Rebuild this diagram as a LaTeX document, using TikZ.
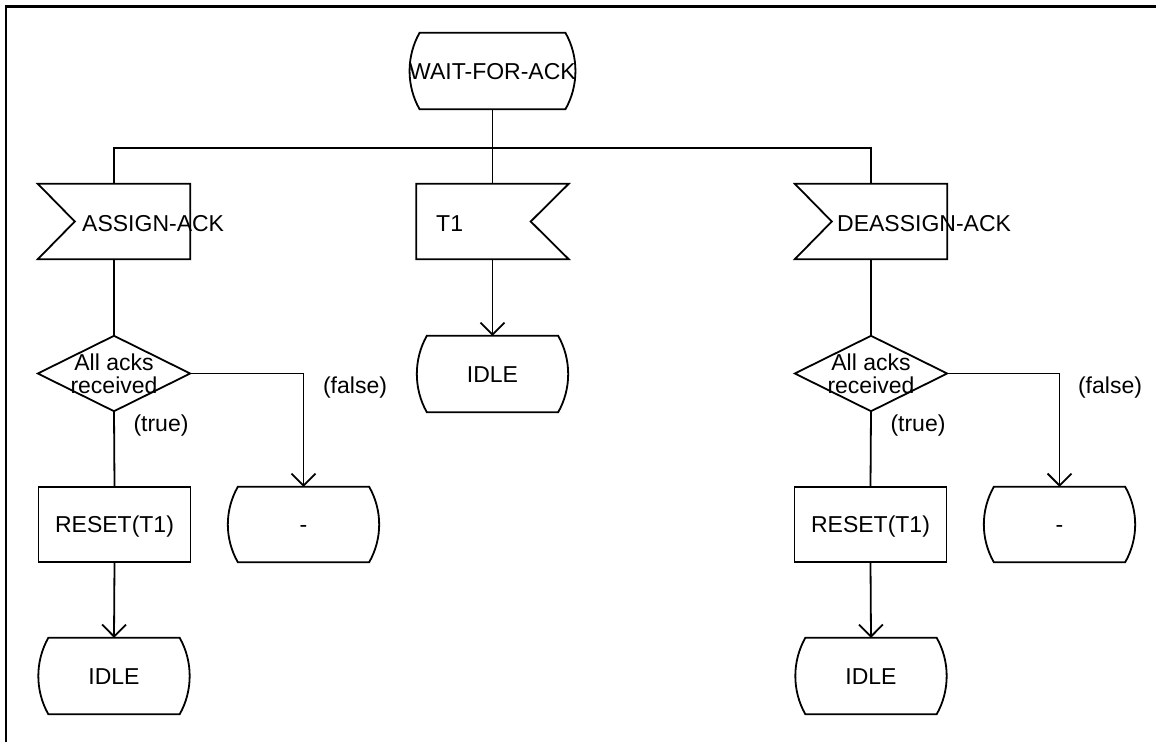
\documentclass[tikz,border=0pt]{standalone}
\usepackage{fontspec}
\setmainfont{Liberation Sans}
\usetikzlibrary{calc,arrows.meta}

\tikzset{
  sdl/.style={line width=1.8pt, black},
  frameline/.style={line width=2.3pt, black},
  lbl/.style={inner sep=0pt, font=\fontsize{23}{23}\selectfont},
  captext/.style={lbl, text height=16.5pt, text depth=0pt},
  box/.style={captext, rectangle, minimum width=152pt, minimum height=75pt},
  statebox/.style={box, minimum height=76pt},
  inputbox/.style={box},
  taskbox/.style={box, draw, sdl},
  decisionbox/.style={lbl, rectangle, align=center, minimum width=152pt, minimum height=75pt},
  flowarrow/.style={sdl, -{Straight Barb[length=12pt,width=24pt]}}
}

% SDL state symbol: straight top and bottom, bowed sides
\newcommand\sdlstate[1]{%
  \draw[sdl] ($(#1.north west)+(10.5,0)$) -- ($(#1.north east)+(-10.5,0)$)
    .. controls ($(#1.north east)+(2.8,23.6)$) and ($(#1.south east)+(2.8,-23.6)$) .. ($(#1.south east)+(-10.5,0)$)
    -- ($(#1.south west)+(10.5,0)$)
    .. controls ($(#1.south west)+(-2.8,-23.6)$) and ($(#1.north west)+(-2.8,23.6)$) .. cycle;}
% SDL input symbol, notch on the left
\newcommand\sdlinputleft[1]{%
  \draw[sdl] (#1.north west) -- (#1.north east) -- (#1.south east) -- (#1.south west)
    -- ($(#1.west)+(37,0)$) -- cycle;}
% SDL input symbol, notch on the right
\newcommand\sdlinputright[1]{%
  \draw[sdl] (#1.north east) -- (#1.north west) -- (#1.south west) -- (#1.south east)
    -- ($(#1.east)+(-38,0)$) -- cycle;}
% SDL decision symbol
\newcommand\sdldecision[1]{%
  \draw[sdl] (#1.north) -- (#1.east) -- (#1.south) -- (#1.west) -- cycle;}

\begin{document}
\begin{tikzpicture}[x=1pt,y=-1pt]
\useasboundingbox (0,0) rectangle (1156,742);

% page frame
\coordinate (fbl) at (6,742);
\coordinate (ftl) at (6,6.5);
\coordinate (ftr) at (1156,6.5);
\draw[frameline] (fbl) -- (ftl) -- (ftr);

% start state
\node[statebox] (wait) at (492.5,71) {WAIT-FOR-ACK};
\sdlstate{wait}

% inputs
\node[inputbox] (ain) at (114,221.5) {};
\node[captext, anchor=west] (aint) at (82,223.5) {ASSIGN-ACK};
\sdlinputleft{ain}
\node[inputbox] (tin) at (492.5,221.5) {};
\node[captext, anchor=west] (tint) at (436,223.5) {T1};
\sdlinputright{tin}
\node[inputbox] (din) at (871,221.5) {};
\node[captext, anchor=west] (dint) at (837,223.5) {DEASSIGN-ACK};
\sdlinputleft{din}

% middle branch
\node[statebox] (tidle) at (492.5,374) {IDLE};
\sdlstate{tidle}

% left branch
\node[decisionbox] (adec) at (114,373.5) {All acks\\received};
\sdldecision{adec}
\node[taskbox] (atask) at (114.5,524.5) {RESET(T1)};
\node[box] (adash) at (303.5,524.5) {-};
\sdlstate{adash}
\node[statebox] (aidle) at (114,676) {IDLE};
\sdlstate{aidle}

% right branch
\node[decisionbox] (ddec) at (871,373.5) {All acks\\received};
\sdldecision{ddec}
\node[taskbox] (dtask) at (870.5,524.5) {RESET(T1)};
\node[box] (ddash) at (1059.5,524.5) {-};
\sdlstate{ddash}
\node[statebox] (didle) at (871,676) {IDLE};
\sdlstate{didle}

% branch labels
\node[lbl] (atrue) at (161,426) {(true)};
\node[lbl] (afalse) at (355,388) {(false)};
\node[lbl] (dtrue) at (918,426) {(true)};
\node[lbl] (dfalse) at (1110,388) {(false)};

% connectors
\coordinate (bus) at (492.5,148);
\draw[sdl] (wait.south) -- (tin.north);
\draw[sdl] (ain.north) |- (bus) -| (din.north);
\draw[flowarrow] (tin.south) -- (tidle.north);

\draw[sdl] (ain.south) -- (adec.north);
\draw[sdl] (adec.south) -- (atask.north);
\draw[flowarrow] (atask.south) -- (aidle.north);
\draw[flowarrow] (adec.east) -| (adash.north);

\draw[sdl] (din.south) -- (ddec.north);
\draw[sdl] (ddec.south) -- (dtask.north);
\draw[flowarrow] (dtask.south) -- (didle.north);
\draw[flowarrow] (ddec.east) -| (ddash.north);
\end{tikzpicture}
\end{document}
